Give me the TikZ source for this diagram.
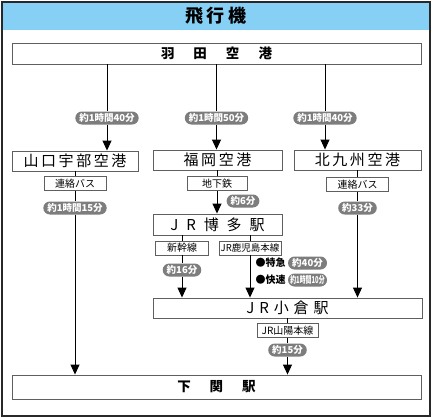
\documentclass[tikz,border=0pt]{standalone}
\usepackage{fontspec}
\setmainfont{Noto Sans CJK JP}
\usetikzlibrary{arrows.meta,calc}
\definecolor{skyb}{RGB}{135,208,245}
\definecolor{badgegray}{RGB}{125,125,125}
\definecolor{boxline}{RGB}{95,95,95}
\definecolor{frameline}{RGB}{40,40,40}
\begin{document}
\begin{tikzpicture}[x=1pt,y=-1pt,
  stationbox/.style={draw=boxline,line width=0.9pt,fill=white,inner sep=0pt,minimum height=20pt},
  linebox/.style={draw=boxline,line width=0.6pt,fill=white,inner sep=0pt,minimum height=14pt,font=\fontsize{10}{11}\selectfont},
  badge/.style={fill=badgegray,rounded corners=6.5pt,text=white,inner xsep=4pt,inner ysep=0pt,minimum height=13pt,font=\fontsize{9.5}{10}\selectfont\bfseries},
  conn/.style={line width=0.9pt,black},
  arr/.style={conn,-{Triangle[width=9pt,length=10pt]}},
  stname/.style={font=\fontsize{15}{16}\selectfont\addfontfeature{LetterSpace=17}},
  bigname/.style={font=\fontsize{13.5}{14}\selectfont\bfseries}
]
\useasboundingbox (0,0) rectangle (433,418);
% frame and title bar
\fill[skyb] (2,2) rectangle (430,30);
\draw[frameline,line width=1.4pt] (2,2) rectangle (430,416);
\node[font=\fontsize{18}{19}\selectfont\bfseries] (title) at (216,16) {飛\hspace{4pt}行\hspace{4pt}機};

% main boxes
\node[stationbox,minimum width=409pt,minimum height=21pt,bigname] (hnd) at (216.5,53.5) {羽\hspace{19pt}田\hspace{19pt}空\hspace{19pt}港};
\node[stationbox,minimum width=126pt,stname] (yam) at (75,161) {山口宇部空港};
\node[stationbox,minimum width=129pt,stname] (fuk) at (217.5,160) {福岡空港};
\node[stationbox,minimum width=127pt,stname] (kit) at (357.5,160) {北九州空港};
\node[stationbox,minimum width=129pt,minimum height=21pt,font=\fontsize{15}{16}\selectfont\addfontfeature{LetterSpace=53}] (hak) at (217.5,224.5) {JR博多駅};
\node[stationbox,minimum width=269pt,font=\fontsize{15}{16}\selectfont\addfontfeature{LetterSpace=33}] (kok) at (287.5,308) {JR小倉駅};
\node[stationbox,minimum width=409pt,minimum height=24pt,bigname] (shi) at (216.5,387) {下\hspace{19pt}関\hspace{19pt}駅};

% line labels
\node[linebox,minimum width=62pt] (yambus) at (75,183.5) {連絡バス};
\node[linebox,minimum width=60pt] (chika) at (217,183.5) {地下鉄};
\node[linebox,minimum width=62pt] (kitbus) at (357.5,184.5) {連絡バス};
\node[linebox,minimum width=53pt] (shink) at (182,248) {新幹線};
\node[linebox,minimum width=62pt,font=\fontsize{9.5}{10}\selectfont] (kago) at (250,248) {JR鹿児島本線};
\node[linebox,minimum width=61pt] (sanyo) at (287.5,330.5) {JR山陽本線};

% badges
\node[badge] (b1) at (107,118) {約1時間40分};
\node[badge] (b2) at (216.5,118) {約1時間50分};
\node[badge] (b3) at (325,118) {約1時間40分};
\node[badge] (b4) at (75,208) {約1時間15分};
\node[badge] (b5) at (243,201) {約6分};
\node[badge] (b6) at (357.5,208) {約33分};
\node[badge] (b7) at (182,270) {約16分};
\node[badge,minimum width=39pt] (b8) at (307.5,263) {約40分};
\node[badge,minimum width=39pt,inner xsep=1pt] (b9) at (307.5,280) {\scalebox{0.62}[1]{約1時間10分}};
\node[badge] (b10) at (287.5,350) {約15分};
\node[anchor=east,inner sep=0pt,font=\fontsize{10}{11}\selectfont\bfseries] (tk) at ($(b8.west)+(-2pt,0)$) {●特急};
\node[anchor=east,inner sep=0pt,font=\fontsize{10}{11}\selectfont\bfseries] (ks) at ($(b9.west)+(-2pt,0)$) {●快速};

% connectors: Haneda to airports
\draw[conn] (hnd.south -| b1) -- (b1.north);
\draw[arr] (b1.south) -- (yam.north -| b1);
\draw[conn] (hnd.south -| b2) -- (b2.north);
\draw[arr] (b2.south) -- (fuk.north -| b2);
\draw[conn] (hnd.south -| b3) -- (b3.north);
\draw[arr] (b3.south) -- (kit.north -| b3);

% Yamaguchi to Shimonoseki
\draw[conn] (yam.south) -- (yambus.north);
\draw[conn] (yambus.south) -- (b4.north);
\draw[arr] (b4.south) -- (shi.north -| b4);

% Fukuoka to Hakata
\draw[conn] (fuk.south -| chika) -- (chika.north);
\draw[arr] (chika.south) -- (hak.north -| chika);

% Kitakyushu to Kokura
\draw[conn] (kit.south) -- (kitbus.north);
\draw[conn] (kitbus.south) -- (b6.north);
\draw[arr] (b6.south) -- (kok.north -| b6);

% Hakata to Kokura
\draw[conn] (hak.south -| shink) -- (shink.north);
\draw[conn] (shink.south) -- (b7.north);
\draw[arr] (b7.south) -- (kok.north -| b7);
\draw[conn] (hak.south -| kago) -- (kago.north);
\draw[arr] (kago.south) -- (kok.north -| kago);

% Kokura to Shimonoseki
\draw[conn] (kok.south -| sanyo) -- (sanyo.north);
\draw[conn] (sanyo.south) -- (b10.north);
\draw[arr] (b10.south) -- (shi.north -| b10);
\end{tikzpicture}
\end{document}
